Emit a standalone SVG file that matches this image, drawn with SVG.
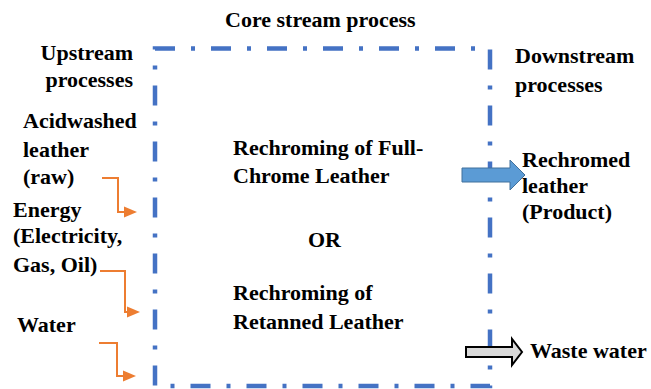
<svg xmlns="http://www.w3.org/2000/svg" width="651" height="389" viewBox="0 0 651 389">
  <style>
    .lbl { font-family: 'Liberation Serif', 'Times New Roman', Times, serif; font-weight: 700; font-size: 22px; fill: #000; }
    .boundary { fill: none; stroke: #4472C4; stroke-width: 4.5; stroke-dasharray: 20 16 4 16; }
    .feed { fill: none; stroke: #ED7D31; stroke-width: 2; }
    .feed-head { fill: #ED7D31; }
    .product { fill: #5B9BD5; stroke: #41719C; stroke-width: 1; }
    .waste { fill: #D9D9D9; stroke: #000; stroke-width: 2; }
  </style>

  <g class="lbl" font-family="Liberation Serif, Times New Roman, serif">
    <!-- section headings -->
    <g id="heading-core">
      <text x="225" y="27">Core stream process</text>
    </g>
    <g id="heading-upstream">
      <text x="133" y="60" text-anchor="end">Upstream</text>
      <text x="133" y="87" text-anchor="end">processes</text>
    </g>
    <g id="heading-downstream">
      <text x="515" y="63">Downstream</text>
      <text x="515" y="92">processes</text>
    </g>

    <!-- inputs -->
    <g id="input-leather">
      <text x="23" y="128">Acidwashed</text>
      <text x="23" y="157">leather</text>
      <text x="23" y="184">(raw)</text>
    </g>
    <g id="input-energy">
      <text x="13" y="217">Energy</text>
      <text x="13" y="243">(Electricity,</text>
      <text x="13" y="272">Gas, Oil)</text>
    </g>
    <g id="input-water">
      <text x="17" y="332">Water</text>
    </g>

    <!-- core process -->
    <g id="process-full-chrome">
      <text x="233" y="155">Rechroming of Full-</text>
      <text x="233" y="183">Chrome Leather</text>
    </g>
    <g id="process-or">
      <text x="308" y="247">OR</text>
    </g>
    <g id="process-retanned">
      <text x="233" y="300">Rechroming of</text>
      <text x="233" y="329">Retanned Leather</text>
    </g>

    <!-- outputs -->
    <g id="output-product">
      <text x="522" y="167">Rechromed</text>
      <text x="522" y="193">leather</text>
      <text x="522" y="219">(Product)</text>
    </g>
    <g id="output-waste">
      <text x="530" y="358">Waste water</text>
    </g>
  </g>

  <!-- process boundary -->
  <g id="core-boundary">
    <path class="boundary" d="M155,48.5 H490 V386 H155 Z"/>
  </g>

  <!-- connectors -->
  <g id="connectors">
    <path class="feed" d="M102,178 H118 V212 H126"/>
    <path class="feed-head" d="M124,206.5 L137,212 L124,217.5 Z"/>
    <path class="feed" d="M100,271 H125 V312 H129"/>
    <path class="feed-head" d="M127,306.5 L140,312 L127,317.5 Z"/>
    <path class="feed" d="M99,343 H117 V376 H125"/>
    <path class="feed-head" d="M123,370.5 L136,376 L123,381.5 Z"/>

    <path class="product" d="M462,168 H510 V160 L525,175 L510,190 V182 H462 Z"/>
    <path class="waste" d="M466,347 H512 V339 L522,352 L512,365 V357 H466 Z"/>
  </g>
</svg>
